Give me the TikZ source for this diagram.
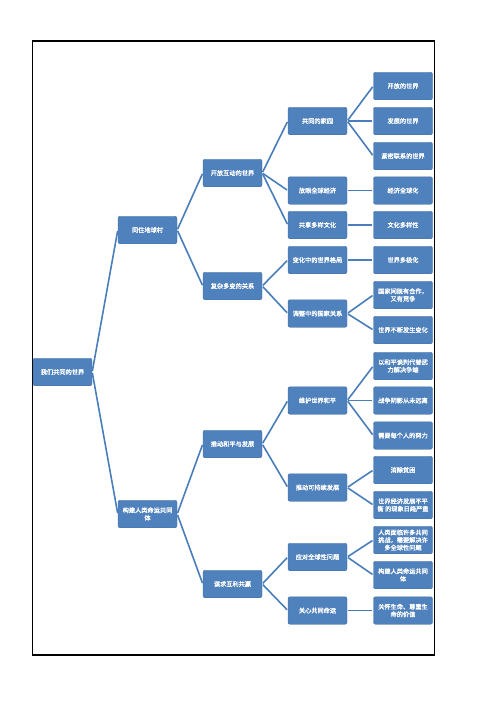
\documentclass[tikz,border=0pt]{standalone}
\usepackage{fontspec}
\newfontfamily\cjk{Noto Sans CJK SC}[FakeBold=1.5]
\definecolor{boxblue}{HTML}{4F81BD}
\definecolor{lineblue}{HTML}{4A7EBB}
\tikzset{
  box/.style={draw=boxblue!85!black, line width=0.4pt, fill=boxblue, rounded corners=2pt,
    minimum width=59pt, minimum height=27.5pt, inner sep=0pt, align=center,
    text=white, font=\cjk\fontsize{6.2}{7.6}\selectfont},
  conn/.style={draw=lineblue, line width=1.6pt, shorten <=1pt, shorten >=1pt}
}
\begin{document}
\begin{tikzpicture}[x=1pt,y=-1pt]
\useasboundingbox (0,0) rectangle (496,702);
\draw[line width=1.3pt] (32.5,41) rectangle (434.5,655);
% level 0
\node[box] (r) at (62.5,372) {我们共同的世界};
% level 1
\node[box] (a) at (147.5,230) {同住地球村};
\node[box] (b) at (147.5,514) {构建人类命运共同\\体};
% level 2
\node[box] (a1) at (232.5,173) {开放互动的世界};
\node[box] (a2) at (232.5,286) {复杂多变的关系};
\node[box] (b1) at (232.5,444) {推动和平与发展};
\node[box] (b2) at (232.5,584) {谋求互利共赢};
% level 3
\node[box] (a11) at (317.5,121) {共同的家园};
\node[box] (a12) at (317.5,190.5) {放眼全球经济};
\node[box] (a13) at (317.5,225) {共享多样文化};
\node[box] (a21) at (317.5,260) {变化中的世界格局};
\node[box] (a22) at (317.5,313.5) {调整中的国家关系};
\node[box] (b11) at (317.5,400.5) {维护世界和平};
\node[box] (b12) at (317.5,487.5) {推动可持续发展};
\node[box] (b21) at (317.5,557) {应对全球性问题};
\node[box] (b22) at (317.5,610.5) {关心共同命运};
% level 4
\node[box] (a111) at (403,86) {开放的世界};
\node[box] (a112) at (403,121) {发展的世界};
\node[box] (a113) at (403,156) {紧密联系的世界};
\node[box] (a121) at (403,190.5) {经济全球化};
\node[box] (a131) at (403,225) {文化多样性};
\node[box] (a211) at (403,260) {世界多极化};
\node[box] (a221) at (403,295) {国家间既有合作，\\又有竞争};
\node[box] (a222) at (403,330) {世界不断发生变化};
\node[box] (b111) at (403,366) {以和平谈判代替武\\力解决争端};
\node[box] (b112) at (403,400.5) {战争阴影从未远离};
\node[box] (b113) at (403,435.5) {需要每个人的努力};
\node[box] (b121) at (403,470) {消除贫困};
\node[box] (b122) at (403,505) {世界经济发展不平\\衡 的现象日趋严重};
\node[box] (b211) at (403,540) {人类面临许多共同\\挑战，需要解决许\\多全球性问题};
\node[box] (b212) at (403,575) {构建人类命运共同\\体};
\node[box] (b221) at (403,610.5) {关怀生命、尊重生\\命的价值};
% connectors
\foreach \p/\c in {r/a, r/b, a/a1, a/a2, b/b1, b/b2,
  a1/a11, a1/a12, a1/a13, a2/a21, a2/a22, b1/b11, b1/b12, b2/b21, b2/b22,
  a11/a111, a11/a112, a11/a113, a12/a121, a13/a131, a21/a211, a22/a221, a22/a222,
  b11/b111, b11/b112, b11/b113, b12/b121, b12/b122, b21/b211, b21/b212, b22/b221}
  \draw[conn] (\p.east) -- (\c.west);
\end{tikzpicture}
\end{document}
